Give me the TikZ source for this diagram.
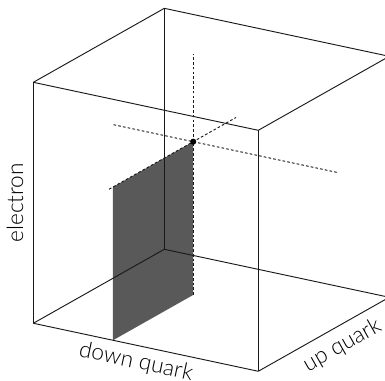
\documentclass[tikz,border=0pt]{standalone}
\usepackage{fontspec}
\setmainfont{Lato}[UprightFont=* Light]

\begin{document}
\begin{tikzpicture}[>=stealth,
    x={(168.75pt,-36pt)}, y={(98.25pt,55.5pt)}, z={(0pt,180.75pt)},
    edge/.style={line width=0.7pt, black!90},
    guide/.style={line width=0.7pt, dash pattern=on 2pt off 1.6pt, black!90},
    axislabel/.style={font=\fontsize{17}{19}\selectfont, inner sep=0pt}]
    % frame of the picture
    \useasboundingbox (-25pt,-43.3pt) rectangle (263.8pt,242.5pt);
    \clip (-25pt,-43.3pt) rectangle (263.8pt,242.5pt);
    % corners of the cube
    \coordinate (fbl) at (0,0,0);
    \coordinate (fbr) at (1,0,0);
    \coordinate (rb)  at (1,1,0);
    \coordinate (bb)  at (0,1,0);
    \coordinate (ftl) at (0,0,1);
    \coordinate (ftr) at (1,0,1);
    \coordinate (rt)  at (1,1,1);
    \coordinate (bt)  at (0,1,1);
    % slice through the point
    \coordinate (pt) at (0.354,0.6125,0.636);
    \fill[black!65] (0.354,0,0) -- (0.354,0.6125,0) -- (pt) -- (0.354,0,0.636) -- cycle;
    % edges
    \foreach \a/\b in {fbl/fbr, fbr/ftr, ftr/ftl, ftl/fbl, fbr/rb, ftr/rt,
                       rt/bt, bt/ftl, bt/bb, bb/fbl, bb/rb, rb/rt}
        \draw[edge] (\a) -- (\b);
    % lines through the point
    \coordinate (vlo) at (0.354,0.6125,0);
    \coordinate (vhi) at (0.354,0.6125,1);
    \coordinate (dlo) at (0,0.6125,0.636);
    \coordinate (dhi) at (1,0.6125,0.636);
    \coordinate (ulo) at (0.354,-0.03,0.636);
    \coordinate (uhi) at (0.354,0.94,0.636);
    \foreach \a/\b in {vlo/vhi, dlo/dhi, ulo/uhi}
        \draw[guide] (\a) -- (\b);
    \fill (pt) circle (2.3pt);
    % axis names
    \node[axislabel, anchor=south, rotate=90, outer sep=7.5pt] (electron) at (0,0,0.5) {electron};
    \node[axislabel, anchor=north, rotate=-12.04, outer sep=4.8pt] (down) at (0.472,0,0) {down quark};
    \node[axislabel, anchor=north, rotate=29.46, outer sep=6.5pt] (up) at (1,0.571,0) {up quark};
\end{tikzpicture}
\end{document}
